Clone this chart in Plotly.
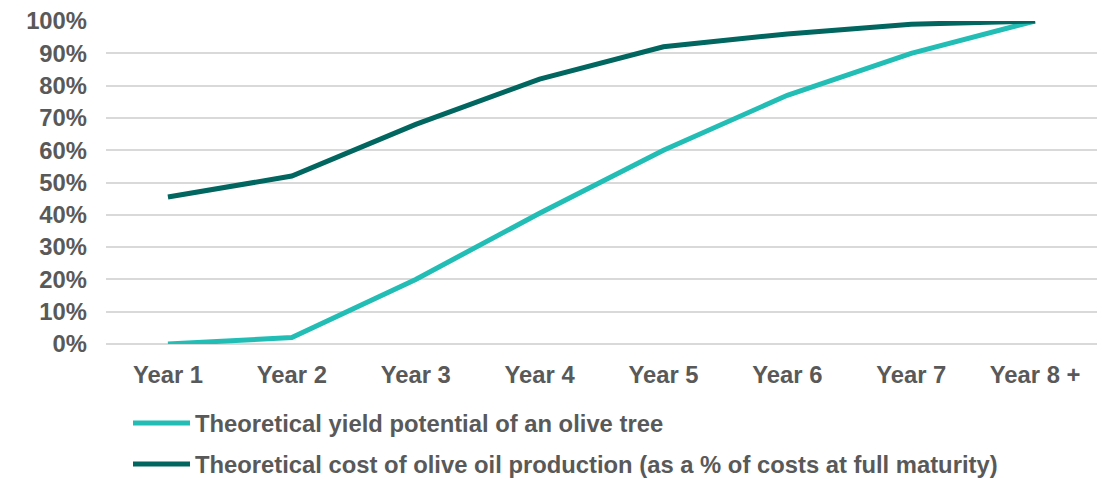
import plotly.graph_objects as go

years = ["Year 1", "Year 2", "Year 3", "Year 4", "Year 5", "Year 6", "Year 7", "Year 8 +"]
yield_potential = [0, 2, 20, 40.5, 60, 77, 90, 100]
production_cost = [45.5, 52, 68, 82, 92, 96, 99, 100]

yield_name = "Theoretical yield potential of an olive tree"
cost_name = "Theoretical cost of olive oil production (as a % of costs at full maturity)"

LIGHT = "#22BDB5"
DARK = "#00665F"
TEXT = "#595959"
GRID = "#D9D9D9"
FONT = "Liberation Sans, Arial, sans-serif"
SIZE = 23.8

fig = go.Figure()
fig.add_trace(go.Scatter(x=years, y=yield_potential, mode="lines", name=yield_name,
                         line=dict(color=LIGHT, width=5), legend="legend"))
fig.add_trace(go.Scatter(x=years, y=production_cost, mode="lines", name=cost_name,
                         line=dict(color=DARK, width=5), legend="legend2"))

legend_style = dict(
    xref="container", yref="container", xanchor="left", yanchor="middle",
    font=dict(family=FONT, size=SIZE, color=TEXT, weight="bold"),
    itemwidth=57, bgcolor="rgba(0,0,0,0)", borderwidth=0,
)

fig.update_layout(
    width=1107, height=479,
    margin=dict(l=106, r=10, t=21, b=135, autoexpand=False),
    paper_bgcolor="white", plot_bgcolor="white",
    font=dict(family=FONT, size=SIZE, color=TEXT, weight="bold"),
    showlegend=True,
    legend=dict(x=128 / 1107, y=1 - 423 / 479, **legend_style),
    legend2=dict(x=128 / 1107, y=1 - 464 / 479, **legend_style),
    xaxis=dict(range=[-0.5, len(years) - 0.5], showgrid=False, showline=False,
               zeroline=False, ticks="", tickangle=0, ticklabelstandoff=14,
               tickfont=dict(size=SIZE, weight="bold")),
    yaxis=dict(range=[0, 100], tickvals=list(range(0, 101, 10)),
               ticktext=[f"{v}%" for v in range(0, 101, 10)],
               showgrid=True, gridcolor=GRID, gridwidth=1.5,
               zeroline=True, zerolinecolor=GRID, zerolinewidth=1.5,
               showline=False, ticks="", ticklabelstandoff=18,
               tickfont=dict(size=SIZE, weight="bold")),
)

fig.write_html("out.html")
